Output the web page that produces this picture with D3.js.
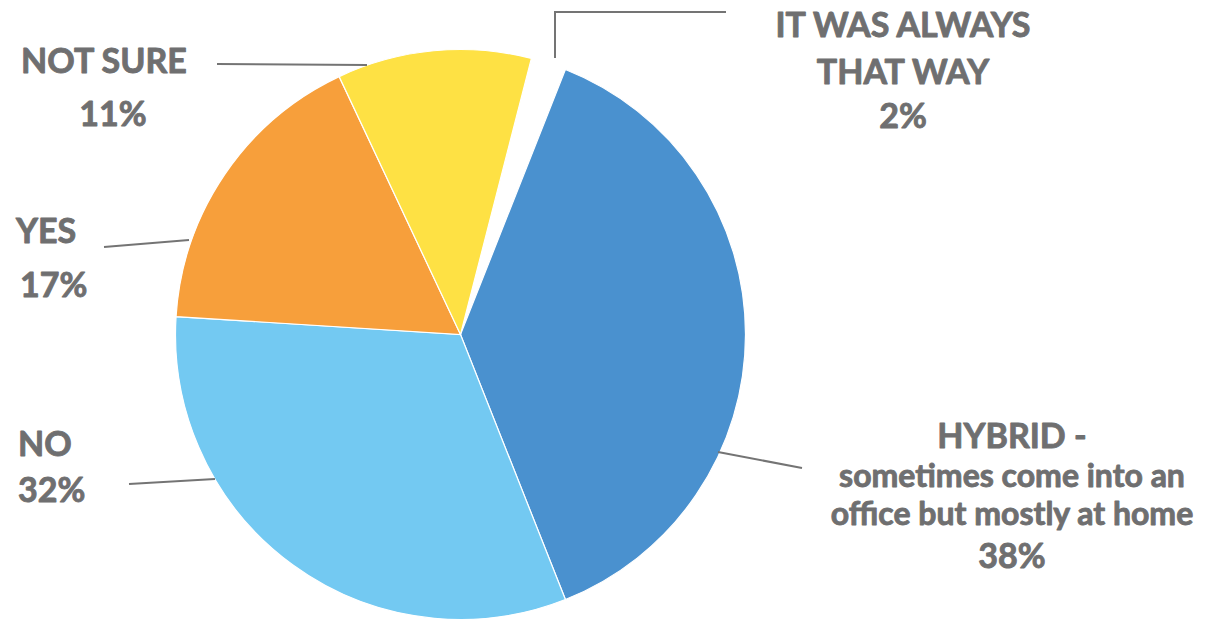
<!DOCTYPE html>
<html>
<head>
<meta charset="utf-8">
<script src="https://cdn.jsdelivr.net/npm/d3@7"></script>
<style>
  html, body { margin: 0; padding: 0; background: #ffffff; }
  svg { display: block; }
  text { font-family: Lato, "Open Sans", sans-serif; font-weight: 700; fill: #6f6f70;
         stroke: #6f6f70; stroke-width: 0.9px; stroke-linejoin: round; }
</style>
</head>
<body>
<svg id="chart" width="1214" height="620"></svg>
<script>
// Survey answers, in drawing order (clockwise)
const categories = ["IT WAS ALWAYS THAT WAY", "HYBRID", "NO", "YES", "NOT SURE"];
const shares = [2, 38, 32, 17, 11];
const sliceColors = ["#ffffff", "#4a91cf", "#73c9f2", "#f79f3b", "#fee144"];

// Label text, one array of lines per category
const labelLines = [
  ["IT WAS ALWAYS", "THAT WAY", "2%"],
  ["HYBRID -", "sometimes come into an", "office but mostly at home", "38%"],
  ["NO", "32%"],
  ["YES", "17%"],
  ["NOT SURE", "11%"]
];

const svg = d3.select("#chart");
const cx = 460.5, cy = 334.5, radius = 285;

const pie = d3.pie()
  .sort(null)
  .value(d => d)
  .startAngle(14.4 * Math.PI / 180)
  .endAngle(374.4 * Math.PI / 180);

const arc = d3.arc().innerRadius(0).outerRadius(radius);

const g = svg.append("g").attr("transform", `translate(${cx},${cy})`);

g.selectAll("path.slice")
  .data(pie(shares))
  .join("path")
  .attr("class", "slice")
  .attr("d", arc)
  .attr("fill", (d, i) => sliceColors[i])
  .attr("stroke", "#ffffff")
  .attr("stroke-width", 1.2);

// Leader lines: polyline points for each label
const leaders = [
  [[555, 58], [555, 12], [726, 12]],
  [[718, 452], [802, 468]],
  [[215, 479], [129, 484]],
  [[189, 240], [104, 247]],
  [[367, 65], [217, 64]]
];
svg.selectAll("path.leader")
  .data(leaders)
  .join("path")
  .attr("class", "leader")
  .attr("d", d => d3.line()(d))
  .attr("fill", "none")
  .attr("stroke", "#747474")
  .attr("stroke-width", 2);

// Label blocks: anchor, x per line, baselines per line, font sizes per line
const labelLayout = [
  { anchor: "middle", x: [903, 903, 903], y: [37, 84, 128], size: [34, 34, 34] },
  { anchor: "middle", x: [1012, 1012, 1012, 1012], y: [448, 487, 525, 568], size: [34, 32, 32, 34] },
  { anchor: "start", x: [18, 18], y: [456, 502], size: [34, 34] },
  { anchor: "start", x: [16, 20], y: [243, 297], size: [34, 34] },
  { anchor: "middle", x: [104, 113], y: [73, 126], size: [34, 34] }
];

labelLines.forEach((lines, i) => {
  const lay = labelLayout[i];
  svg.append("g")
    .selectAll("text")
    .data(lines)
    .join("text")
    .attr("x", (d, j) => lay.x[j])
    .attr("y", (d, j) => lay.y[j])
    .attr("text-anchor", lay.anchor)
    .attr("font-size", (d, j) => lay.size[j])
    .text(d => d);
});
</script>
</body>
</html>
